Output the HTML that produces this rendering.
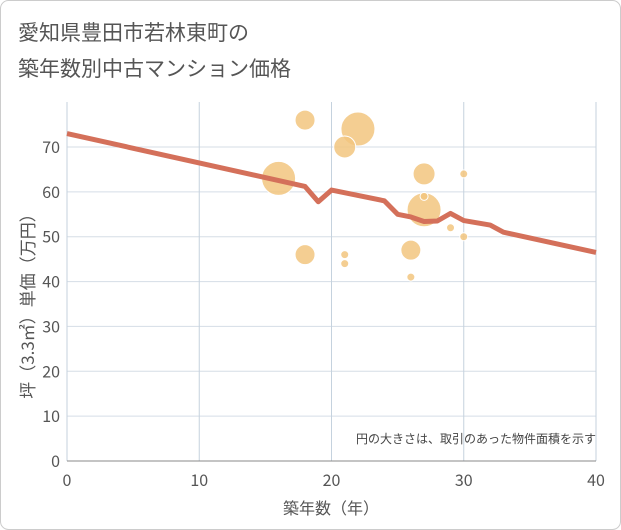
<!DOCTYPE html>
<html><head><meta charset="utf-8"><style>
body{margin:0;background:#fff;}
svg{display:block;font-family:"Noto Sans CJK JP","Liberation Sans",sans-serif;}
</style></head><body>
<svg width="621" height="530">
<rect x="0.5" y="0.5" width="620" height="529" rx="8" fill="#fff" stroke="#ccc"/>
<text x="18" y="40" font-size="21" fill="#555">愛知県豊田市若林東町の</text>
<text x="18" y="76" font-size="21" fill="#555">築年数別中古マンション価格</text>
<g id="grid"></g><g id="bubbles"></g><g id="line"></g><g id="axes"></g>
<text x="596" y="443" font-size="12" fill="#444" text-anchor="end">円の大きさは、取引のあった物件面積を示す</text>
<text x="331" y="514" font-size="16" fill="#555" text-anchor="middle">築年数（年）</text>
<text transform="translate(34,302) rotate(-90)" font-size="17" fill="#555" text-anchor="middle">坪（3.3㎡）単価（万円）</text>
</svg>
<script>
const xTicks=[0,10,20,30,40];
const yTicks=[0,10,20,30,40,50,60,70];
const bubbleX=[18,22,21,16,27,27,27,30,18,21,21,26,26,29,30];
const bubbleY=[76,74,70,63,64,56,59,64,46,46,44,47,41,52,50];
const bubbleR=[10,17,11,17,11,17,4,4,10,4,4,10,4,4,4];
const lineX=[0,18,19,20,24,25,26,27,28,29,30,32,33,40];
const lineY=[73,61.2,57.8,60.4,58,55,54.4,53.4,53.5,55.2,53.6,52.6,51,46.5];
const NS="http://www.w3.org/2000/svg";
const X=v=>67+v*(596-67)/40, Y=v=>461-v*(461-147)/70;
function mk(t,a,p){const e=document.createElementNS(NS,t);for(const k in a)e.setAttribute(k,a[k]);p.appendChild(e);return e;}
const g=document.getElementById('grid'),ax=document.getElementById('axes');
mk('rect',{x:67,y:102,width:529,height:359,fill:'#fff'},g);
yTicks.forEach(v=>{const l=mk('line',{x1:67,x2:596,y1:Y(v),y2:Y(v),stroke:'#d5dde6'},g);


const t=mk('text',{x:60,y:Y(v)+6,'font-size':16,fill:'#555','text-anchor':'end'},ax);t.textContent=v;

});
xTicks.forEach(v=>{const l=mk('line',{x1:X(v),x2:X(v),y1:102,y2:461,stroke:'#c5d2de'},g);


const t=mk('text',{x:X(v),y:486,'font-size':16,fill:'#555','text-anchor':'middle'},ax);t.textContent=v;

});
const xa=mk('line',{x1:67,x2:596,y1:461,y2:461,stroke:'#888'},ax);


const b=document.getElementById('bubbles');
bubbleX.forEach((x,i)=>{const c=mk('circle',{cx:X(x),cy:Y(bubbleY[i]),r:bubbleR[i],fill:'#f2c57f','fill-opacity':0.85,stroke:'#fff','stroke-width':1},b);

});
const p=mk('polyline',{points:lineX.map((x,i)=>X(x)+','+Y(lineY[i])).join(' '),fill:'none',stroke:'#d4705a','stroke-width':5,'stroke-linejoin':'round'},document.getElementById('line'));


</script>
</body></html>
